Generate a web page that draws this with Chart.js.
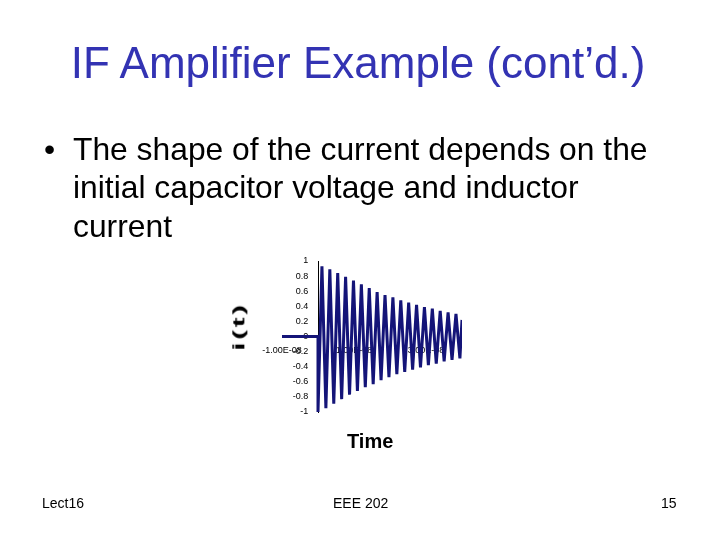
<!DOCTYPE html>
<html>
<head>
<meta charset="utf-8">
<script src="https://cdn.jsdelivr.net/npm/chart.js@4.4.0/dist/chart.umd.min.js"></script>
<style>
  html, body { margin:0; padding:0; background:#fff; }
  body { width:720px; height:540px; position:relative; overflow:hidden; font-family:Arial, "Liberation Sans", sans-serif; }
  #wrap { position:absolute; left:0; top:0; width:720px; height:540px; }
  .t { position:absolute; white-space:nowrap; }
  #title { left:0; width:720px; text-align:center; top:38px; font-size:44px; color:#3333b3; padding-right:4px; box-sizing:border-box; }
  .bl { left:73px; font-size:31.8px; color:#000; }
  #bullet { left:44px; top:131px; font-size:31.8px; }
  #ylab { left:225px; top:316px; font-size:17px; line-height:21px; font-weight:bold; letter-spacing:1.5px; transform:rotate(-90deg) scaleX(1.75); transform-origin:center; }
  #xlab { left:347px; top:430px; font-size:20px; font-weight:bold; }
  .ft { top:495px; font-size:14px; color:#000; }
</style>
</head>
<body>
<div id="wrap"><canvas id="c" width="720" height="540"></canvas></div>
<div class="t" id="title">IF Amplifier Example (cont’d.)</div>
<div class="t" id="bullet">•</div>
<div class="t bl" style="top:131px">The shape of the current depends on the</div>
<div class="t bl" style="top:169px">initial capacitor voltage and inductor</div>
<div class="t bl" style="top:208px">current</div>
<div class="t" id="ylab">i(t)</div>
<div class="t" id="xlab">Time</div>
<div class="t ft" style="left:42px">Lect16</div>
<div class="t ft" style="left:333px">EEE 202</div>
<div class="t ft" style="left:661px">15</div>
<script>
// time in ns (axis labels shown in seconds)
const timeNs = [-10, 0,
  0.000, 1.095, 2.19, 3.285, 4.38, 5.475, 6.57, 7.665, 8.76, 9.855,
  10.95, 12.045, 13.14, 14.235, 15.33, 16.425, 17.52, 18.615, 19.71, 20.805,
  21.9, 22.995, 24.09, 25.185, 26.28, 27.375, 28.47, 29.565, 30.66, 31.755,
  32.85, 33.945, 35.04, 36.135, 37.23, 38.325, 39.42, 40.0];
const current = [0, 0,
  -1.00, 0.93, -0.95, 0.89, -0.89, 0.84, -0.83, 0.79, -0.77, 0.74,
  -0.72, 0.69, -0.67, 0.64, -0.63, 0.59, -0.58, 0.55, -0.54, 0.52,
  -0.50, 0.48, -0.47, 0.45, -0.44, 0.42, -0.41, 0.39, -0.38, 0.37,
  -0.36, 0.34, -0.33, 0.32, -0.31, 0.30, -0.29, 0.22];
const xTickValues = [-10, 10, 30];
const xTickLabels = ['-1.00E-08', '1.00E-08', '3.00E-08'];
const yTickValues = [-1, -0.8, -0.6, -0.4, -0.2, 0, 0.2, 0.4, 0.6, 0.8, 1];
const yTickLabels = ['-1', '-0.8', '-0.6', '-0.4', '-0.2', '0', '0.2', '0.4', '0.6', '0.8', '1'];
const yLabelGap = '\u2003\u200A';

const pts = timeNs.map((t, i) => ({x: t, y: current[i]}));
new Chart(document.getElementById('c'), {
  type: 'scatter',
  data: { datasets: [{ data: pts, showLine: true, borderColor: '#141478', borderWidth: 3,
    pointRadius: 0, tension: 0, fill: false }] },
  options: {
    responsive: false, animation: false, devicePixelRatio: 1,
    layout: { padding: { left: 282, right: 258, top: 261, bottom: 128 } },
    plugins: { legend: { display: false }, tooltip: { enabled: false } },
    scales: {
      x: {
        type: 'linear', min: -10, max: 40, position: { y: 0 },
        grid: { display: false, drawTicks: true, tickLength: 8, tickColor: 'rgba(0,0,0,0)' },
        border: { display: false },
        afterBuildTicks: s => { s.ticks = xTickValues.map(v => ({value: v})); },
        ticks: { padding: 1, autoSkip: false, maxRotation: 0, color: '#000',
          font: { family: 'Arial', size: 9 },
          callback: v => xTickLabels[xTickValues.indexOf(v)] }
      },
      y: {
        type: 'linear', min: -1, max: 1, position: { x: 0 },
        grid: { display: false, drawTicks: false },
        border: { display: true, color: '#000', width: 1 },
        afterBuildTicks: s => { s.ticks = yTickValues.map(v => ({value: v})); },
        ticks: { padding: 0, autoSkip: false, color: '#000',
          font: { family: 'Arial', size: 9 },
          callback: v => yTickLabels[yTickValues.findIndex(a => Math.abs(a - v) < 1e-9)] + yLabelGap }
      }
    }
  }
});
</script>
</body>
</html>
